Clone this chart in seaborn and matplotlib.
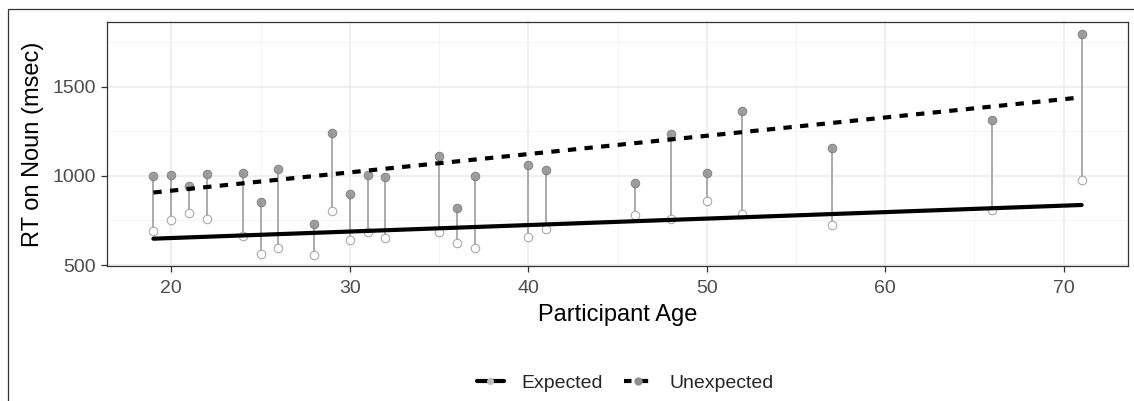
import numpy as np
import pandas as pd
import matplotlib
matplotlib.use("Agg")
import matplotlib.pyplot as plt
import seaborn as sns
from matplotlib.lines import Line2D
from matplotlib.patches import Rectangle
from matplotlib.ticker import MultipleLocator

# participant ages and mean RTs
ages = [19, 20, 21, 22, 24, 25, 26, 28, 29, 30, 31, 32, 35, 36, 37, 40, 41, 46, 48, 50, 52, 57, 66, 71]
rt_expected = [690, 753, 790, 761, 664, 562, 596, 556, 801, 640, 685, 650, 687, 622, 594, 656, 704,
               780, 756, 859, 789, 722, 811, 976]
rt_unexpected = [1000, 1008, 945, 1011, 1017, 851, 1041, 729, 1243, 899, 1006, 994, 1113, 820, 998,
                 1063, 1031, 963, 1233, 1019, 1363, 1159, 1315, 1796]

# fitted lines (end points)
fit_ages = [19, 71]
fit_expected = [648, 837]
fit_unexpected = [907, 1441]

conditions = ["Expected", "Unexpected"]

df = pd.DataFrame({
    "Age": ages + ages,
    "RT": rt_expected + rt_unexpected,
    "Condition": ["Expected"] * len(ages) + ["Unexpected"] * len(ages),
})
fits = pd.DataFrame({
    "Age": fit_ages + fit_ages,
    "RT": fit_expected + fit_unexpected,
    "Condition": ["Expected"] * 2 + ["Unexpected"] * 2,
})

sns.set_theme(style="whitegrid")
plt.rcParams["font.family"] = ["Liberation Sans", "DejaVu Sans"]

fig = plt.figure(figsize=(11.34, 4.01), dpi=100)
ax = fig.add_axes([107 / 1134, 1 - 266.3 / 401, (1128 - 107) / 1134, (266.3 - 22.3) / 401])

# vertical segments joining each participant's two conditions
sns.lineplot(data=df, x="Age", y="RT", units="Age", estimator=None, sort=False,
             color="#ababab", linewidth=1.4, ax=ax, legend=False, zorder=2)

# points
sns.scatterplot(data=df[df["Condition"] == "Unexpected"], x="Age", y="RT", s=38,
                color="#959595", edgecolor="#7a7a7a", linewidth=0.7, alpha=0.9, ax=ax,
                legend=False, zorder=3)
sns.scatterplot(data=df[df["Condition"] == "Expected"], x="Age", y="RT", s=38,
                facecolor="white", edgecolor="#a0a0a0", linewidth=0.7, ax=ax,
                legend=False, zorder=3)

# fit lines
sns.lineplot(data=fits[fits["Condition"] == "Expected"], x="Age", y="RT", color="black",
             linewidth=3.0, ax=ax, legend=False, zorder=4)
sns.lineplot(data=fits[fits["Condition"] == "Unexpected"], x="Age", y="RT", color="black",
             linewidth=3.0, dashes=False, ax=ax, legend=False, zorder=4)
ax.lines[-1].set_dashes((2.0, 2.0))

ax.set_xlim(16.4, 73.6)
ax.set_ylim(493, 1862)
ax.xaxis.set_major_locator(MultipleLocator(10))
ax.xaxis.set_minor_locator(MultipleLocator(5))
ax.yaxis.set_major_locator(MultipleLocator(500))
ax.yaxis.set_minor_locator(MultipleLocator(250))
ax.grid(which="major", color="#ebebeb", linewidth=1.1)
ax.grid(which="minor", color="#f2f2f2", linewidth=0.6)
ax.set_axisbelow(True)
for s in ax.spines.values():
    s.set_color("#333333")
    s.set_linewidth(0.9)
ax.tick_params(axis="both", which="major", direction="out", length=4, width=0.9,
               color="#333333", labelcolor="#4d4d4d", labelsize=14, pad=4,
               left=True, bottom=True)
ax.tick_params(axis="x", which="major", pad=6)
ax.tick_params(which="minor", length=0)

ax.set_xlabel("Participant Age", fontsize=17, color="black", labelpad=5)
ax.set_ylabel("RT on Noun (msec)", fontsize=17, color="black", labelpad=6)

handles = [
    Line2D([], [], color="black", linewidth=3.0, marker="o", markersize=4,
           markerfacecolor="#bdbdbd", markeredgecolor="#bdbdbd"),
    Line2D([], [], color="black", linewidth=3.0, linestyle=(0, (1.8, 2.2)), marker="o",
           markersize=5, markerfacecolor="#8f8f8f", markeredgecolor="#8f8f8f"),
]
fig.legend(handles, conditions, loc="center", bbox_to_anchor=(625 / 1134, 1 - 383 / 401),
           ncol=2, frameon=False, fontsize=14, handlelength=1.4, handletextpad=0.9,
           columnspacing=1.1)

# outer frame (cut off at right and bottom in the reference)
fig.patches.append(Rectangle((8 / 1134, -0.2), 1.5, 1.2 - 9 / 401, transform=fig.transFigure,
                             fill=False, edgecolor="#333333", linewidth=0.9))

fig.savefig("out.png", dpi=100)
